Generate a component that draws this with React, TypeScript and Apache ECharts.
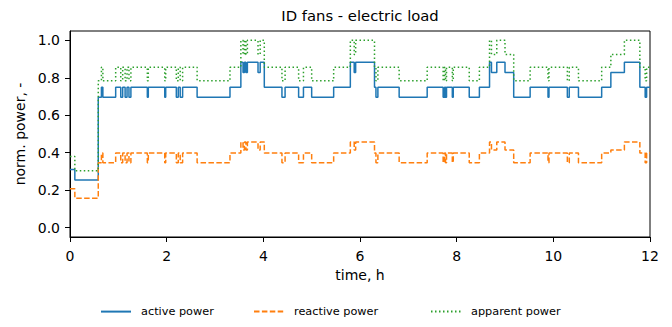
import React, { useEffect, useRef } from "react";
import * as echarts from "echarts";

// breakpoints (hours); each value holds until the next breakpoint
const timeH = [
  0, 0.1, 0.585, 0.65, 0.68, 0.945, 1.05, 1.09, 1.14, 1.18,
  1.22, 1.26, 1.6, 1.62, 1.96, 1.98, 2.2, 2.24, 2.28, 2.33,
  2.63, 3.31, 3.535, 3.58, 3.61, 3.64, 3.67, 3.89, 3.935, 4.02,
  4.385, 4.45, 4.73, 4.83, 5.0, 5.455, 5.8, 5.88, 5.91, 6.3,
  6.33, 6.37, 6.81, 7.39, 7.72, 7.75, 7.77, 7.79, 7.91, 7.93,
  8.26, 8.47, 8.68, 8.72, 8.83, 9.0, 9.18, 9.52, 9.89, 9.91,
  10.29, 10.33, 10.52, 11.0, 11.19, 11.47, 11.79, 11.9, 11.93, 12.0,
];

const activePower = [
  0.31, 0.255, 0.696, 0.75, 0.696, 0.75, 0.696, 0.75, 0.696, 0.75,
  0.696, 0.75, 0.696, 0.75, 0.696, 0.75, 0.696, 0.75, 0.696, 0.75,
  0.696, 0.75, 0.883, 0.829, 0.883, 0.829, 0.883, 0.829, 0.883, 0.75,
  0.696, 0.75, 0.696, 0.75, 0.696, 0.75, 0.883, 0.829, 0.883, 0.75,
  0.696, 0.75, 0.696, 0.75, 0.696, 0.75, 0.696, 0.75, 0.696, 0.75,
  0.696, 0.75, 0.883, 0.829, 0.883, 0.829, 0.696, 0.75, 0.696, 0.75,
  0.696, 0.75, 0.696, 0.75, 0.829, 0.883, 0.75, 0.696, 0.75, 0.75,
];

const reactivePower = [
  0.208, 0.157, 0.347, 0.398, 0.347, 0.398, 0.347, 0.398, 0.347, 0.398,
  0.347, 0.398, 0.347, 0.398, 0.347, 0.398, 0.347, 0.398, 0.347, 0.398,
  0.347, 0.398, 0.457, 0.415, 0.457, 0.415, 0.457, 0.415, 0.457, 0.398,
  0.347, 0.398, 0.347, 0.398, 0.347, 0.398, 0.457, 0.415, 0.457, 0.398,
  0.347, 0.398, 0.347, 0.398, 0.347, 0.398, 0.347, 0.398, 0.347, 0.398,
  0.347, 0.398, 0.457, 0.415, 0.457, 0.415, 0.347, 0.398, 0.347, 0.398,
  0.347, 0.398, 0.347, 0.398, 0.415, 0.457, 0.398, 0.347, 0.398, 0.398,
];

const apparentPower = [
  0.38, 0.304, 0.784, 0.856, 0.784, 0.856, 0.784, 0.856, 0.784, 0.856,
  0.784, 0.856, 0.784, 0.856, 0.784, 0.856, 0.784, 0.856, 0.784, 0.856,
  0.784, 0.856, 1.0, 0.925, 1.0, 0.925, 1.0, 0.925, 1.0, 0.856,
  0.784, 0.856, 0.784, 0.856, 0.784, 0.856, 1.0, 0.925, 1.0, 0.856,
  0.784, 0.856, 0.784, 0.856, 0.784, 0.856, 0.784, 0.856, 0.784, 0.856,
  0.784, 0.856, 1.0, 0.925, 1.0, 0.925, 0.784, 0.856, 0.784, 0.856,
  0.784, 0.856, 0.784, 0.856, 0.925, 1.0, 0.856, 0.784, 0.856, 0.856,
];

const yTicks = [0, 0.2, 0.4, 0.6, 0.8, 1.0];
const seriesNames = ["active power", "reactive power", "apparent power"];
const chartTitle = "ID fans - electric load";

const FONT = "DejaVu Sans";

export default function App() {
  const ref = useRef<HTMLDivElement>(null);
  useEffect(() => {
    if (!ref.current) return;
    const chart = echarts.init(ref.current, null, { renderer: "svg" });
    const mk = (vals: number[]) => timeH.map((t, i) => [t, vals[i]]);
    const legendBase = {
      top: 306,
      padding: 0,
      itemWidth: 30,
      itemHeight: 14,
      itemStyle: { opacity: 0 },
      textStyle: { fontFamily: FONT, fontSize: 11.3, color: "#000", padding: [0, 0, 0, 5] },
    };
    chart.setOption({
      animation: false,
      backgroundColor: "#fff",
      graphic: [
        {
          type: "text",
          x: 360,
          y: 15,
          style: {
            text: chartTitle,
            fontFamily: FONT,
            fontSize: 14.8,
            fill: "#000",
            textAlign: "center",
            textVerticalAlign: "middle",
          },
        },
      ],
      grid: {
        left: 70,
        right: 22,
        top: 31,
        bottom: 90,
        show: true,
        borderColor: "#000",
        borderWidth: 1,
        backgroundColor: "transparent",
      },
      legend: [
        { ...legendBase, left: 100, data: [seriesNames[0]] },
        { ...legendBase, left: 253, data: [seriesNames[1]] },
        { ...legendBase, left: 430, data: [seriesNames[2]] },
      ],
      xAxis: {
        type: "value",
        min: 0,
        max: 12,
        interval: 2,
        name: "time, h",
        nameLocation: "middle",
        nameGap: 21,
        nameTextStyle: { fontFamily: FONT, fontSize: 14, color: "#000" },
        axisLine: { show: true, onZero: false, lineStyle: { color: "#000", width: 1 } },
        axisTick: { show: true, length: 5, lineStyle: { color: "#000" } },
        axisLabel: { fontFamily: FONT, fontSize: 14, color: "#000", margin: 12 },
        splitLine: { show: false },
      },
      yAxis: {
        type: "value",
        min: -0.05,
        max: 1.05,
        name: "norm. power, -",
        nameLocation: "middle",
        nameGap: 42,
        nameTextStyle: { fontFamily: FONT, fontSize: 14, color: "#000" },
        axisLine: { show: true, onZero: false, lineStyle: { color: "#000", width: 1 } },
        axisTick: { show: true, length: 5, lineStyle: { color: "#000" }, customValues: yTicks },
        axisLabel: {
          fontFamily: FONT,
          fontSize: 14,
          color: "#000",
          margin: 10,
          customValues: yTicks,
          formatter: (v: number) => v.toFixed(1),
        },
        splitLine: { show: false },
      },
      series: [
        {
          name: seriesNames[0],
          type: "line",
          step: "end",
          symbol: "none",
          data: mk(activePower),
          color: "#1f77b4",
          lineStyle: { color: "#1f77b4", width: 1.5, type: "solid" },
        },
        {
          name: seriesNames[1],
          type: "line",
          step: "end",
          symbol: "none",
          data: mk(reactivePower),
          color: "#ff7f0e",
          lineStyle: { color: "#ff7f0e", width: 1.5, type: [5.5, 2.4] },
        },
        {
          name: seriesNames[2],
          type: "line",
          step: "end",
          symbol: "none",
          data: mk(apparentPower),
          color: "#2ca02c",
          lineStyle: { color: "#2ca02c", width: 1.5, type: [1.5, 2.5] },
        },
      ],
    });
    return () => chart.dispose();
  }, []);
  return (
    <div
      ref={ref}
      style={{ position: "fixed", left: 0, top: 0, width: 672, height: 327 }}
    />
  );
}
